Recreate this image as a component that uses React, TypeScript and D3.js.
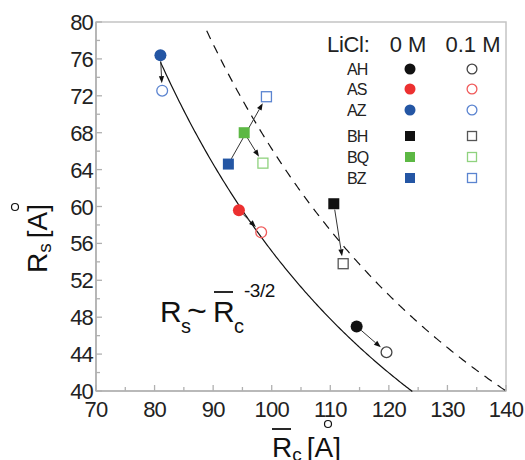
import React from "react";
import * as d3 from "d3";

const names = ["AH", "AS", "AZ", "BH", "BQ", "BZ"];
const shapes = ["circle", "circle", "circle", "square", "square", "square"];
const fillColors = ["#111111", "#ec3030", "#2456a4", "#111111", "#5cb844", "#2456a4"];
const openColors = ["#444444", "#f05a5a", "#5b84d0", "#555555", "#8fd27e", "#5b84d0"];
const rc0 = [114.5, 94.4, 81.0, 110.6, 95.3, 92.6];
const rs0 = [47.0, 59.6, 76.4, 60.3, 68.0, 64.6];
const rc1 = [119.6, 98.2, 81.3, 112.2, 98.5, 99.1];
const rs1 = [44.2, 57.2, 72.55, 53.8, 64.7, 71.9];

const xTicks = [70, 80, 90, 100, 110, 120, 130, 140];
const xMinor = [75, 85, 95, 105, 115, 125, 135];
const yTicks = [40, 44, 48, 52, 56, 60, 64, 68, 72, 76, 80];
const yMinor = [42, 46, 50, 54, 58, 62, 66, 70, 74, 78];

// power-law fit constants (Rs = k * Rc^-3/2)
const solidK = 55165;
const solidRange = [81.0, 124.0];
const dashedK = 66259;
const dashedRange = [88.9, 140.0];

const W = 525, H = 460;
const left = 96, right = 506, top = 22, bottom = 391;
const font = "'Liberation Sans', Arial, sans-serif";

export default function App() {
  const x = d3.scaleLinear().domain([70, 140]).range([left, right]);
  const y = d3.scaleLinear().domain([40, 80]).range([bottom, top]);

  const curve = (k: number, r: number[]) => {
    const pts = d3.range(r[0], r[1] + 0.001, 0.25).map((v) => [v, k * Math.pow(v, -1.5)] as [number, number]);
    return d3.line<[number, number]>().x((d) => x(d[0])).y((d) => y(d[1]))(pts) || "";
  };

  const marker = (shape: string, cx: number, cy: number, filled: boolean, col: string, size: number, key: string) => {
    if (shape === "circle") {
      return filled ? (
        <circle key={key} cx={cx} cy={cy} r={size / 2} fill={col} />
      ) : (
        <circle key={key} cx={cx} cy={cy} r={size / 2 - 0.6} fill="none" stroke={col} strokeWidth={1.3} />
      );
    }
    const s = filled ? size - 1 : size - 2;
    return filled ? (
      <rect key={key} x={cx - s / 2} y={cy - s / 2} width={s} height={s} fill={col} />
    ) : (
      <rect key={key} x={cx - s / 2} y={cy - s / 2} width={s} height={s} fill="none" stroke={col} strokeWidth={1.3} />
    );
  };

  const arrows = names.map((n, i) => {
    const x0 = x(rc0[i]), y0 = y(rs0[i]), x1 = x(rc1[i]), y1 = y(rs1[i]);
    const dx = x1 - x0, dy = y1 - y0;
    const len = Math.sqrt(dx * dx + dy * dy);
    const ux = dx / len, uy = dy / len;
    const sx = x0 + ux * 6, sy = y0 + uy * 6;
    const ex = x1 - ux * 7.5, ey = y1 - uy * 7.5;
    const hl = 7, hw = 2.6;
    const bx = ex - ux * hl, by = ey - uy * hl;
    const head = `M${ex},${ey} L${bx - uy * hw},${by + ux * hw} L${bx + uy * hw},${by - ux * hw} Z`;
    return (
      <g key={"a" + n}>
        <line x1={sx} y1={sy} x2={bx} y2={by} stroke="#333" strokeWidth={1} />
        <path d={head} fill="#111" />
      </g>
    );
  });

  const legendRows = [69, 89, 110, 136, 157, 178];

  return (
    <svg width={W} height={H} style={{ position: "absolute", left: 0, top: 0 }} fontFamily={font}>
      <rect x={0} y={0} width={W} height={H} fill="#fff" />
      {/* frame */}
      <rect x={left} y={top} width={right - left} height={bottom - top} fill="none" stroke="#c4c4c4" strokeWidth={1.5} />
      <line x1={left} y1={bottom} x2={right} y2={bottom} stroke="#b0b0b0" strokeWidth={1.6} />
      <line x1={left} y1={top} x2={left} y2={bottom} stroke="#b0b0b0" strokeWidth={1.6} />
      {xTicks.map((t) => (
        <line key={"xt" + t} x1={x(t)} x2={x(t)} y1={bottom} y2={bottom - 6} stroke="#b0b0b0" strokeWidth={1.3} />
      ))}
      {xMinor.map((t) => (
        <line key={"xm" + t} x1={x(t)} x2={x(t)} y1={bottom} y2={bottom - 4} stroke="#b0b0b0" strokeWidth={1.3} />
      ))}
      {yTicks.map((t) => (
        <line key={"yt" + t} x1={left} x2={left + 6} y1={y(t)} y2={y(t)} stroke="#b0b0b0" strokeWidth={1.3} />
      ))}
      {yMinor.map((t) => (
        <line key={"ym" + t} x1={left} x2={left + 4} y1={y(t)} y2={y(t)} stroke="#b0b0b0" strokeWidth={1.3} />
      ))}
      {xTicks.map((t) => (
        <text key={"xl" + t} x={x(t)} y={417} textAnchor="middle" fontSize={22} fill="#222" letterSpacing={-0.8}>
          {t}
        </text>
      ))}
      {yTicks.map((t) => (
        <text key={"yl" + t} x={93} y={y(t) + 8} textAnchor="end" fontSize={22} fill="#222" letterSpacing={-0.8}>
          {t}
        </text>
      ))}

      {/* fits */}
      <path d={curve(solidK, solidRange)} fill="none" stroke="#111" strokeWidth={1.2} />
      <path d={curve(dashedK, dashedRange)} fill="none" stroke="#111" strokeWidth={1.2} strokeDasharray="9,7" />

      {arrows}

      {names.map((n, i) => marker(shapes[i], x(rc0[i]), y(rs0[i]), true, fillColors[i], 12, "f" + n))}
      {names.map((n, i) => marker(shapes[i], x(rc1[i]), y(rs1[i]), false, openColors[i], 12, "o" + n))}

      {/* legend */}
      <text x={327} y={52} fontSize={22} fill="#222" letterSpacing={-0.3}>LiCl:</text>
      <text x={408} y={52} fontSize={22} fill="#222" textAnchor="middle">0 M</text>
      <text x={473} y={52} fontSize={22} fill="#222" textAnchor="middle">0.1 M</text>
      {names.map((n, i) => (
        <g key={"lg" + n}>
          <text x={347} y={legendRows[i] + 6} fontSize={16} fill="#222" letterSpacing={-1}>{n}</text>
          {marker(shapes[i], 410, legendRows[i], true, fillColors[i], 11, "lf" + n)}
          {marker(shapes[i], 472, legendRows[i], false, openColors[i], 11, "lo" + n)}
        </g>
      ))}

      {/* annotation */}
      <g fill="#111">
        <text x={160} y={322} fontSize={30}>R</text>
        <text x={181} y={333} fontSize={20}>s</text>
        <text x={187} y={322} fontSize={34}>~</text>
        <text x={213} y={322} fontSize={30}>R</text>
        <text x={234} y={333} fontSize={20}>c</text>
        <text x={244} y={297} fontSize={19} letterSpacing={-0.5}>-3/2</text>
      </g>
      <line x1={214} x2={233} y1={292} y2={292} stroke="#111" strokeWidth={1.8} />

      {/* y label */}
      <text transform="translate(47,273) rotate(-90)" fontSize={28} fill="#111">
        R<tspan fontSize={19} dy={4}>s</tspan>
        <tspan dy={-4} dx={5}>[A]</tspan>
      </text>
      <circle cx={15} cy={207} r={3.5} fill="none" stroke="#111" strokeWidth={1.2} />

      {/* x label */}
      <text x={272} y={457} fontSize={28} fill="#111">
        R<tspan fontSize={19} dy={4}>c</tspan>
        <tspan dy={-4} dx={5}>[A]</tspan>
      </text>
      <line x1={272} x2={291} y1={429} y2={429} stroke="#111" strokeWidth={1.8} />
      <circle cx={328} cy={424} r={3.5} fill="none" stroke="#111" strokeWidth={1.2} />
    </svg>
  );
}
